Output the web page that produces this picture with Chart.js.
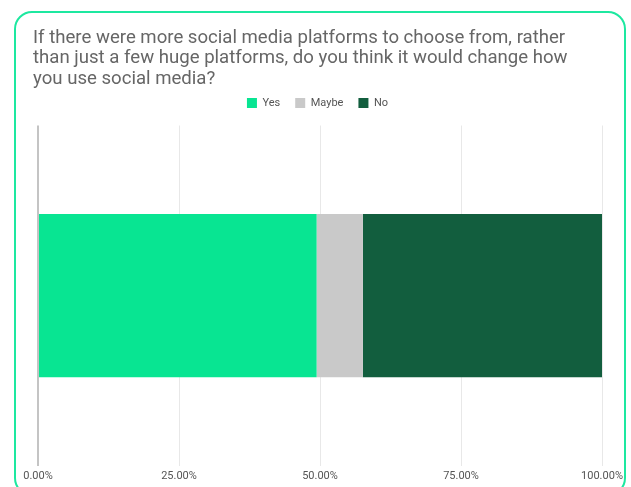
<!DOCTYPE html>
<html>
<head>
<meta charset="utf-8">
<script src="https://cdn.jsdelivr.net/npm/chart.js@4/dist/chart.umd.min.js"></script>
<style>
  html, body { margin: 0; padding: 0; background: #ffffff; }
  #wrap { position: relative; width: 631px; height: 487px; overflow: hidden; }
  #frame {
    position: absolute; left: 14px; top: 11px; width: 612px; height: 485px;
    box-sizing: border-box; border: 2px solid #1de8a0; border-radius: 18px;
    pointer-events: none;
  }
  canvas { position: absolute; left: 0; top: 0; }
</style>
</head>
<body>
<div id="wrap">
  <canvas id="c" width="631" height="487"></canvas>
  <div id="frame"></div>
</div>
<script>
const titleLines = [
  "If there were more social media platforms to choose from, rather",
  "than just a few huge platforms, do you think it would change how",
  "you use social media?"
];
const categories = [""];
const seriesNames = ["Yes", "Maybe", "No"];
const yesValues = [49.4];
const maybeValues = [8.2];
const noValues = [42.4];
const seriesColors = ["#08e592", "#c9c9c9", "#125e3e"];
const tickValues = [0, 25, 50, 75, 100];

const layoutTweak = {
  id: 'layoutTweak',
  beforeInit(chart) {
    const t = chart.titleBlock;
    if (t) {
      const tu = t.update;
      t.update = function (w, h, m) { tu.call(this, w, h, m); this.height -= 7; this.bottom = this.top + this.height; };
    }
    const l = chart.legend;
    if (l) {
      const lf = l.fit;
      l.fit = function () { lf.call(this); this.height = 43; };
    }
  }
};

const seriesData = [yesValues, maybeValues, noValues];

new Chart(document.getElementById('c'), {
  type: 'bar',
  data: {
    labels: categories,
    datasets: seriesNames.map((name, i) => ({
      label: name,
      data: seriesData[i],
      backgroundColor: seriesColors[i],
      borderWidth: 0,
      categoryPercentage: 0.6,
      barPercentage: 0.8
    }))
  },
  options: {
    indexAxis: 'y',
    responsive: false,
    animation: false,
    devicePixelRatio: 1,
    layout: { padding: { left: 33, right: 29, top: 0, bottom: 0 } },
    plugins: {
      title: {
        display: true,
        text: titleLines,
        align: 'start',
        color: '#666666',
        font: { family: 'Roboto', size: 18.6, weight: 'normal', lineHeight: '20.5px' },
        padding: { top: 28, bottom: 0 }
      },
      legend: {
        display: true,
        position: 'top',
        align: 'center',
        labels: {
          boxWidth: 10,
          boxHeight: 10,
          padding: 15,
          color: '#555555',
          font: { family: 'Roboto', size: 11 }
        }
      },
      tooltip: { enabled: false }
    },
    scales: {
      x: {
        stacked: true,
        min: 0,
        max: 100,
        afterBuildTicks(scale) { scale.ticks = tickValues.map(v => ({ value: v })); },
        border: { display: false },
        grid: {
          drawTicks: false,
          color: ctx => (ctx.tick && ctx.tick.value === 0) ? '#c4c4c4' : '#e8e8e8',
          lineWidth: ctx => (ctx.tick && ctx.tick.value === 0) ? 2 : 1
        },
        ticks: {
          padding: 4,
          color: '#555555',
          font: { family: 'Roboto', size: 11 },
          callback: v => Number(v).toFixed(2) + '%'
        }
      },
      y: {
        stacked: true,
        border: { display: false },
        grid: { display: false },
        ticks: { display: false },
        afterFit(scale) { scale.width = 5; }
      }
    }
  },
  plugins: [layoutTweak]
});
</script>
</body>
</html>
